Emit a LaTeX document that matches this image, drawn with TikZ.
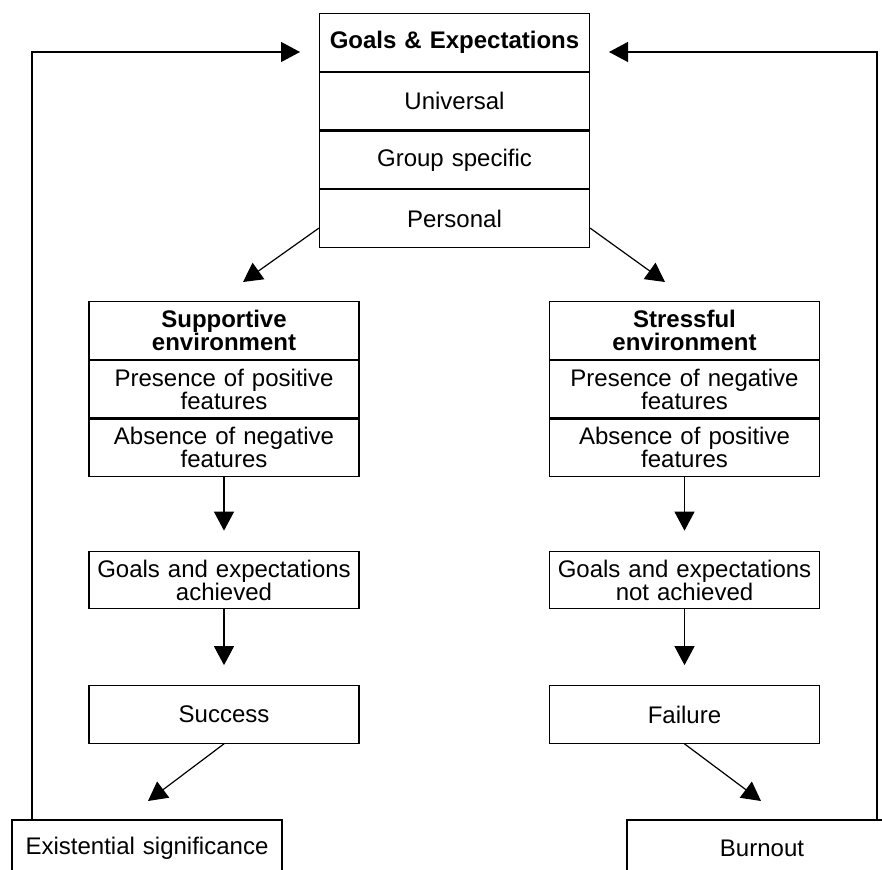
\documentclass[tikz,border=0pt]{standalone}
\usepackage{fontspec}
\setmainfont{Liberation Sans}
\usetikzlibrary{positioning,arrows.meta}

\begin{document}
\begin{tikzpicture}[
            x=0.5pt, y=-0.5pt,
            every node/.style={draw, line width=0.6pt, text width=131pt,
              inner xsep=2pt, inner ysep=0pt, minimum height=28.75pt,
              align=center, font=\fontsize{12}{11.5}\selectfont},
            head/.style={font=\fontsize{12}{11.5}\selectfont\bfseries},
            arr/.style={line width=0.6pt, -{Triangle[length=9.5pt,width=10pt]}},
            ]
            \useasboundingbox (0,0) rectangle (882,870);
            % goals box
            \node[head] (goals) at (454.5,42.5) {Goals \& Expectations};
            \node (univ) [below=0pt of goals] {Universal};
            \node (group) [below=0pt of univ] {Group specific};
            \node (pers) [below=0pt of group] {Personal};
            % left branch
            \node[head] (supp) at (224,330.5) {Supportive\\environment};
            \node (pospres) [below=0pt of supp] {Presence of positive\\features};
            \node (negabs) [below=0pt of pospres] {Absence of negative\\features};
            \node (achv) at (224,580) {Goals and expectations\\achieved};
            \node (succ) at (224,714.5) {Success};
            \node (exist) at (147,848.75) {Existential significance};
            % right branch
            \node[head] (stress) at (684.5,330.5) {Stressful\\environment};
            \node (negpres) [below=0pt of stress] {Presence of negative\\features};
            \node (posabs) [below=0pt of negpres] {Absence of positive\\features};
            \node (notach) at (684.5,580) {Goals and expectations\\not achieved};
            \node (fail) at (684.5,714.5) {Failure};
            \node (burn) at (762,848.75) {Burnout};
            % free ends
            \coordinate (lefttip) at (243,282);
            \coordinate (righttip) at (665,282);
            \coordinate (succtip) at (148,801);
            \coordinate (failtip) at (761,801);
            \coordinate (fbl) at (32,52);
            \coordinate (fbltip) at (300,52);
            \coordinate (fbr) at (877,52);
            \coordinate (fbrtip) at (609,52);
            % arrows
            \draw[arr] ([yshift=-4.75pt]pers.west) -- (lefttip);
            \draw[arr] ([yshift=-4.75pt]pers.east) -- (righttip);
            \draw[arr, shorten >=10pt] (negabs) -- (achv);
            \draw[arr, shorten >=10pt] (achv) -- (succ);
            \draw[arr, shorten >=10pt] (posabs) -- (notach);
            \draw[arr, shorten >=10pt] (notach) -- (fail);
            \draw[arr] (succ.south) -- (succtip);
            \draw[arr] (fail.south) -- (failtip);
            \draw[arr] (fbl |- exist.north) -- (fbl) -- (fbltip);
            \draw[arr] (fbr |- burn.north) -- (fbr) -- (fbrtip);
            \end{tikzpicture}
\end{document}
